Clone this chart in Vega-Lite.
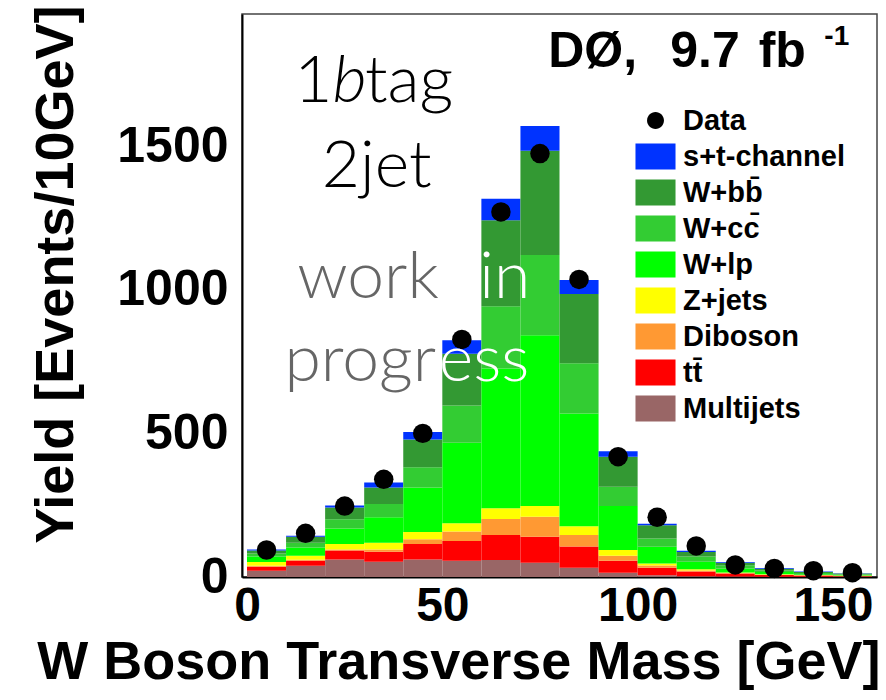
{
"$schema":"https://vega.github.io/schema/vega-lite/v6.json",
"width":635,"height":563,
"autosize":{"type":"none"},
"padding":{"left":242,"top":14,"right":9,"bottom":123},
"background":"white",
"config":{"view":{"stroke":"#444","strokeWidth":1.5},"font":"Liberation Sans"},
"resolve":{"axis":{"x":"independent"}},
"datasets":{
"mc":[
{"lo":0,"hi":10,"p":"Multijets","k":1,"n":22},{"lo":0,"hi":10,"p":"tt\u0304","k":2,"n":14},{"lo":0,"hi":10,"p":"Diboson","k":3,"n":3},{"lo":0,"hi":10,"p":"Z+jets","k":4,"n":13},{"lo":0,"hi":10,"p":"W+lp","k":5,"n":19},{"lo":0,"hi":10,"p":"W+cc\u0304","k":6,"n":11},{"lo":0,"hi":10,"p":"W+bb\u0304","k":7,"n":10},{"lo":0,"hi":10,"p":"s+t-channel","k":8,"n":4},
{"lo":10,"hi":20,"p":"Multijets","k":1,"n":39},{"lo":10,"hi":20,"p":"tt\u0304","k":2,"n":18},{"lo":10,"hi":20,"p":"Diboson","k":3,"n":3},{"lo":10,"hi":20,"p":"Z+jets","k":4,"n":14},{"lo":10,"hi":20,"p":"W+lp","k":5,"n":29},{"lo":10,"hi":20,"p":"W+cc\u0304","k":6,"n":16},{"lo":10,"hi":20,"p":"W+bb\u0304","k":7,"n":21},{"lo":10,"hi":20,"p":"s+t-channel","k":8,"n":4},
{"lo":20,"hi":30,"p":"Multijets","k":1,"n":61},{"lo":20,"hi":30,"p":"tt\u0304","k":2,"n":31},{"lo":20,"hi":30,"p":"Diboson","k":3,"n":4},{"lo":20,"hi":30,"p":"Z+jets","k":4,"n":19},{"lo":20,"hi":30,"p":"W+lp","k":5,"n":54},{"lo":20,"hi":30,"p":"W+cc\u0304","k":6,"n":32},{"lo":20,"hi":30,"p":"W+bb\u0304","k":7,"n":41},{"lo":20,"hi":30,"p":"s+t-channel","k":8,"n":7},
{"lo":30,"hi":40,"p":"Multijets","k":1,"n":53},{"lo":30,"hi":40,"p":"tt\u0304","k":2,"n":35},{"lo":30,"hi":40,"p":"Diboson","k":3,"n":8},{"lo":30,"hi":40,"p":"Z+jets","k":4,"n":23},{"lo":30,"hi":40,"p":"W+lp","k":5,"n":89},{"lo":30,"hi":40,"p":"W+cc\u0304","k":6,"n":46},{"lo":30,"hi":40,"p":"W+bb\u0304","k":7,"n":58},{"lo":30,"hi":40,"p":"s+t-channel","k":8,"n":17},
{"lo":40,"hi":50,"p":"Multijets","k":1,"n":61},{"lo":40,"hi":50,"p":"tt\u0304","k":2,"n":54},{"lo":40,"hi":50,"p":"Diboson","k":3,"n":16},{"lo":40,"hi":50,"p":"Z+jets","k":4,"n":26},{"lo":40,"hi":50,"p":"W+lp","k":5,"n":155},{"lo":40,"hi":50,"p":"W+cc\u0304","k":6,"n":70},{"lo":40,"hi":50,"p":"W+bb\u0304","k":7,"n":97},{"lo":40,"hi":50,"p":"s+t-channel","k":8,"n":26},
{"lo":50,"hi":60,"p":"Multijets","k":1,"n":57},{"lo":50,"hi":60,"p":"tt\u0304","k":2,"n":68},{"lo":50,"hi":60,"p":"Diboson","k":3,"n":33},{"lo":50,"hi":60,"p":"Z+jets","k":4,"n":29},{"lo":50,"hi":60,"p":"W+lp","k":5,"n":280},{"lo":50,"hi":60,"p":"W+cc\u0304","k":6,"n":130},{"lo":50,"hi":60,"p":"W+bb\u0304","k":7,"n":180},{"lo":50,"hi":60,"p":"s+t-channel","k":8,"n":47},
{"lo":60,"hi":70,"p":"Multijets","k":1,"n":59},{"lo":60,"hi":70,"p":"tt\u0304","k":2,"n":87},{"lo":60,"hi":70,"p":"Diboson","k":3,"n":56},{"lo":60,"hi":70,"p":"Z+jets","k":4,"n":37},{"lo":60,"hi":70,"p":"W+lp","k":5,"n":487},{"lo":60,"hi":70,"p":"W+cc\u0304","k":6,"n":217},{"lo":60,"hi":70,"p":"W+bb\u0304","k":7,"n":299},{"lo":60,"hi":70,"p":"s+t-channel","k":8,"n":75},
{"lo":70,"hi":80,"p":"Multijets","k":1,"n":50},{"lo":70,"hi":80,"p":"tt\u0304","k":2,"n":90},{"lo":70,"hi":80,"p":"Diboson","k":3,"n":70},{"lo":70,"hi":80,"p":"Z+jets","k":4,"n":37},{"lo":70,"hi":80,"p":"W+lp","k":5,"n":595},{"lo":70,"hi":80,"p":"W+cc\u0304","k":6,"n":279},{"lo":70,"hi":80,"p":"W+bb\u0304","k":7,"n":363},{"lo":70,"hi":80,"p":"s+t-channel","k":8,"n":86},
{"lo":80,"hi":90,"p":"Multijets","k":1,"n":32},{"lo":80,"hi":90,"p":"tt\u0304","k":2,"n":74},{"lo":80,"hi":90,"p":"Diboson","k":3,"n":40},{"lo":80,"hi":90,"p":"Z+jets","k":4,"n":31},{"lo":80,"hi":90,"p":"W+lp","k":5,"n":392},{"lo":80,"hi":90,"p":"W+cc\u0304","k":6,"n":175},{"lo":80,"hi":90,"p":"W+bb\u0304","k":7,"n":241},{"lo":80,"hi":90,"p":"s+t-channel","k":8,"n":49},
{"lo":90,"hi":100,"p":"Multijets","k":1,"n":15},{"lo":90,"hi":100,"p":"tt\u0304","k":2,"n":42},{"lo":90,"hi":100,"p":"Diboson","k":3,"n":17},{"lo":90,"hi":100,"p":"Z+jets","k":4,"n":20},{"lo":90,"hi":100,"p":"W+lp","k":5,"n":153},{"lo":90,"hi":100,"p":"W+cc\u0304","k":6,"n":67},{"lo":90,"hi":100,"p":"W+bb\u0304","k":7,"n":105},{"lo":90,"hi":100,"p":"s+t-channel","k":8,"n":19},
{"lo":100,"hi":110,"p":"Multijets","k":1,"n":6},{"lo":100,"hi":110,"p":"tt\u0304","k":2,"n":26},{"lo":100,"hi":110,"p":"Diboson","k":3,"n":8},{"lo":100,"hi":110,"p":"Z+jets","k":4,"n":7},{"lo":100,"hi":110,"p":"W+lp","k":5,"n":58},{"lo":100,"hi":110,"p":"W+cc\u0304","k":6,"n":29},{"lo":100,"hi":110,"p":"W+bb\u0304","k":7,"n":46},{"lo":100,"hi":110,"p":"s+t-channel","k":8,"n":5},
{"lo":110,"hi":120,"p":"Multijets","k":1,"n":3},{"lo":110,"hi":120,"p":"tt\u0304","k":2,"n":16},{"lo":110,"hi":120,"p":"Diboson","k":3,"n":4},{"lo":110,"hi":120,"p":"Z+jets","k":4,"n":4},{"lo":110,"hi":120,"p":"W+lp","k":5,"n":26},{"lo":110,"hi":120,"p":"W+cc\u0304","k":6,"n":18},{"lo":110,"hi":120,"p":"W+bb\u0304","k":7,"n":16},{"lo":110,"hi":120,"p":"s+t-channel","k":8,"n":4},
{"lo":120,"hi":130,"p":"Multijets","k":1,"n":2},{"lo":120,"hi":130,"p":"tt\u0304","k":2,"n":10},{"lo":120,"hi":130,"p":"Diboson","k":3,"n":2},{"lo":120,"hi":130,"p":"Z+jets","k":4,"n":2},{"lo":120,"hi":130,"p":"W+lp","k":5,"n":14},{"lo":120,"hi":130,"p":"W+cc\u0304","k":6,"n":11},{"lo":120,"hi":130,"p":"W+bb\u0304","k":7,"n":9},{"lo":120,"hi":130,"p":"s+t-channel","k":8,"n":2},
{"lo":130,"hi":140,"p":"Multijets","k":1,"n":1},{"lo":130,"hi":140,"p":"tt\u0304","k":2,"n":6},{"lo":130,"hi":140,"p":"Diboson","k":3,"n":1},{"lo":130,"hi":140,"p":"Z+jets","k":4,"n":2},{"lo":130,"hi":140,"p":"W+lp","k":5,"n":7},{"lo":130,"hi":140,"p":"W+cc\u0304","k":6,"n":6},{"lo":130,"hi":140,"p":"W+bb\u0304","k":7,"n":6},{"lo":130,"hi":140,"p":"s+t-channel","k":8,"n":2},
{"lo":140,"hi":150,"p":"Multijets","k":1,"n":1},{"lo":140,"hi":150,"p":"tt\u0304","k":2,"n":4},{"lo":140,"hi":150,"p":"Diboson","k":3,"n":1},{"lo":140,"hi":150,"p":"Z+jets","k":4,"n":1},{"lo":140,"hi":150,"p":"W+lp","k":5,"n":3},{"lo":140,"hi":150,"p":"W+cc\u0304","k":6,"n":4},{"lo":140,"hi":150,"p":"W+bb\u0304","k":7,"n":3},{"lo":140,"hi":150,"p":"s+t-channel","k":8,"n":2},
{"lo":150,"hi":160,"p":"Multijets","k":1,"n":0.5},{"lo":150,"hi":160,"p":"tt\u0304","k":2,"n":2.5},{"lo":150,"hi":160,"p":"Diboson","k":3,"n":1},{"lo":150,"hi":160,"p":"Z+jets","k":4,"n":1},{"lo":150,"hi":160,"p":"W+lp","k":5,"n":2},{"lo":150,"hi":160,"p":"W+cc\u0304","k":6,"n":2},{"lo":150,"hi":160,"p":"W+bb\u0304","k":7,"n":3},{"lo":150,"hi":160,"p":"s+t-channel","k":8,"n":1}
],
"obs":[
{"c":5,"n":94},{"c":15,"n":152},{"c":25,"n":247},{"c":35,"n":340},{"c":45,"n":500},{"c":55,"n":827},{"c":65,"n":1271},{"c":75,"n":1474},{"c":85,"n":1036},{"c":95,"n":419},{"c":105,"n":208},{"c":115,"n":108},{"c":125,"n":42},{"c":135,"n":30},{"c":145,"n":22},{"c":155,"n":15}
],
"light":[{"t":"1","x":12.1,"y":1653.7},{"t":"tag","x":30.2,"y":1653.7},{"t":"2jet","x":19.15,"y":1357.7}],
"ital":[{"t":"b","x":21.9,"y":1653.7}],
"gray":[{"t":"work","x":12.85,"y":971.3},{"t":"progr","x":9.57,"y":682.4}],
"white":[{"t":"in","x":59.46,"y":971.3},{"t":"ess","x":49.1,"y":682.4}],
"dzero":[{"t":"DØ,","x":77.1,"y":1775.5},{"t":"9.7","x":108.35,"y":1775.5},{"t":"fb","x":131.0,"y":1775.5}],
"sup":[{"t":"-1","x":147.8,"y":1852}]
},
"layer":[
{
"data":{"name":"mc"},
"mark":{"type":"bar","orient":"vertical"},
"encoding":{
"x":{"field":"lo","type":"quantitative",
 "scale":{"domain":[0,160],"nice":false,"zero":false},
 "axis":{"orient":"bottom","title":"W Boson Transverse Mass [GeV]","values":[0,50,100,150],
  "format":"d","labelOverlap":false,
  "labelFont":"Liberation Sans","labelFontSize":48,"labelFontWeight":"bold","labelColor":"black","labelPadding":5,
  "tickSize":0,"tickColor":"black","tickWidth":1.5,"domainColor":"black","domainWidth":2,"grid":false,
  "titleFont":"Liberation Sans","titleFontSize":54,"titleFontWeight":"bold","titleColor":"black",
  "titleX":638,"titleY":101,"titleAlign":"right","titleBaseline":"alphabetic",
  "encode":{"ticks":{"update":{"y2":{"value":-18}}}}}},
"x2":{"field":"hi"},
"y":{"field":"n","type":"quantitative","stack":"zero",
 "scale":{"domain":[0,1960],"nice":false},
 "axis":{"title":"Yield [Events/10GeV]","values":[0,250,500,750,1000,1250,1500,1750],
  "labelExpr":"datum.value % 500 === 0 ? datum.label : ''","format":"d","labelOverlap":false,
  "labelFont":"Liberation Sans","labelFontSize":50,"labelFontWeight":"bold","labelColor":"black","labelPadding":14,
  "tickSize":0,"tickColor":"black","tickWidth":1.5,"domainColor":"black","domainWidth":2,"grid":false,
  "titleFont":"Liberation Sans","titleFontSize":54,"titleFontWeight":"bold","titleColor":"black",
  "titleX":-170,"titleY":-9,"titleAlign":"right","titleBaseline":"alphabetic",
  "encode":{"ticks":{"update":{"x2":{"signal":"datum.value % 500 === 0 ? 22 : 11"}}}}}},
"color":{"field":"p","type":"nominal",
 "scale":{"domain":["Data","s+t-channel","W+bb\u0304","W+cc\u0304","W+lp","Z+jets","Diboson","tt\u0304","Multijets"],
  "range":["#000000","#0033ff","#339933","#33cc33","#00ff00","#ffff00","#ff9933","#ff0000","#996666"]},
 "legend":{"orient":"none","legendX":399,"legendY":92,"title":null,"padding":0,
  "symbolSize":676,"symbolStrokeWidth":0,"labelFont":"Liberation Sans","labelFontSize":29,"labelFontWeight":"bold",
  "labelColor":"black","labelOffset":13,"rowPadding":6,"labelLimit":400,
  "encode":{"symbols":{"update":{
   "shape":{"signal":"datum.value === 'Data' ? 'M-0.65,0A0.65,0.65,0,1,1,0.65,0A0.65,0.65,0,1,1,-0.65,0Z' : 'M-1.54,-1L1.54,-1L1.54,1L-1.54,1Z'"},
   "opacity":{"value":1}}}}}},
"order":{"field":"k","type":"quantitative"}
}
},
{
"data":{"name":"obs"},
"mark":{"type":"circle","size":380,"opacity":1,"color":"black"},
"encoding":{
"x":{"field":"c","type":"quantitative",
 "axis":{"orient":"bottom","title":null,"values":[10,20,30,40,60,70,80,90,110,120,130,140],"labels":false,"domain":false,"grid":false,
  "tickSize":0,"tickColor":"black","tickWidth":1.5,
  "encode":{"ticks":{"update":{"y2":{"value":-9}}}}}},
"y":{"field":"n","type":"quantitative"}}
},
{
"data":{"name":"light"},
"mark":{"type":"text","align":"left","baseline":"alphabetic","font":"Lato","fontWeight":300,"fontSize":66,"color":"black"},
"encoding":{"x":{"field":"x","type":"quantitative","axis":null},"y":{"field":"y","type":"quantitative"},"text":{"field":"t"}}
},
{
"data":{"name":"ital"},
"mark":{"type":"text","align":"left","baseline":"alphabetic","font":"Lato","fontWeight":300,"fontStyle":"italic","fontSize":66,"color":"black"},
"encoding":{"x":{"field":"x","type":"quantitative","axis":null},"y":{"field":"y","type":"quantitative"},"text":{"field":"t"}}
},
{
"data":{"name":"gray"},
"mark":{"type":"text","align":"left","baseline":"alphabetic","font":"Lato","fontWeight":300,"fontSize":66,"color":"#666666"},
"encoding":{"x":{"field":"x","type":"quantitative","axis":null},"y":{"field":"y","type":"quantitative"},"text":{"field":"t"}}
},
{
"data":{"name":"white"},
"mark":{"type":"text","align":"left","baseline":"alphabetic","font":"Lato","fontWeight":300,"fontSize":66,"color":"#ffffff"},
"encoding":{"x":{"field":"x","type":"quantitative","axis":null},"y":{"field":"y","type":"quantitative"},"text":{"field":"t"}}
},
{
"data":{"name":"dzero"},
"mark":{"type":"text","align":"left","baseline":"alphabetic","font":"Liberation Sans","fontWeight":"bold","fontSize":50,"color":"black"},
"encoding":{"x":{"field":"x","type":"quantitative","axis":null},"y":{"field":"y","type":"quantitative"},"text":{"field":"t"}}
},
{
"data":{"name":"sup"},
"mark":{"type":"text","align":"left","baseline":"alphabetic","font":"Liberation Sans","fontWeight":"bold","fontSize":28,"color":"black"},
"encoding":{"x":{"field":"x","type":"quantitative","axis":null},"y":{"field":"y","type":"quantitative"},"text":{"field":"t"}}
}
]
}
